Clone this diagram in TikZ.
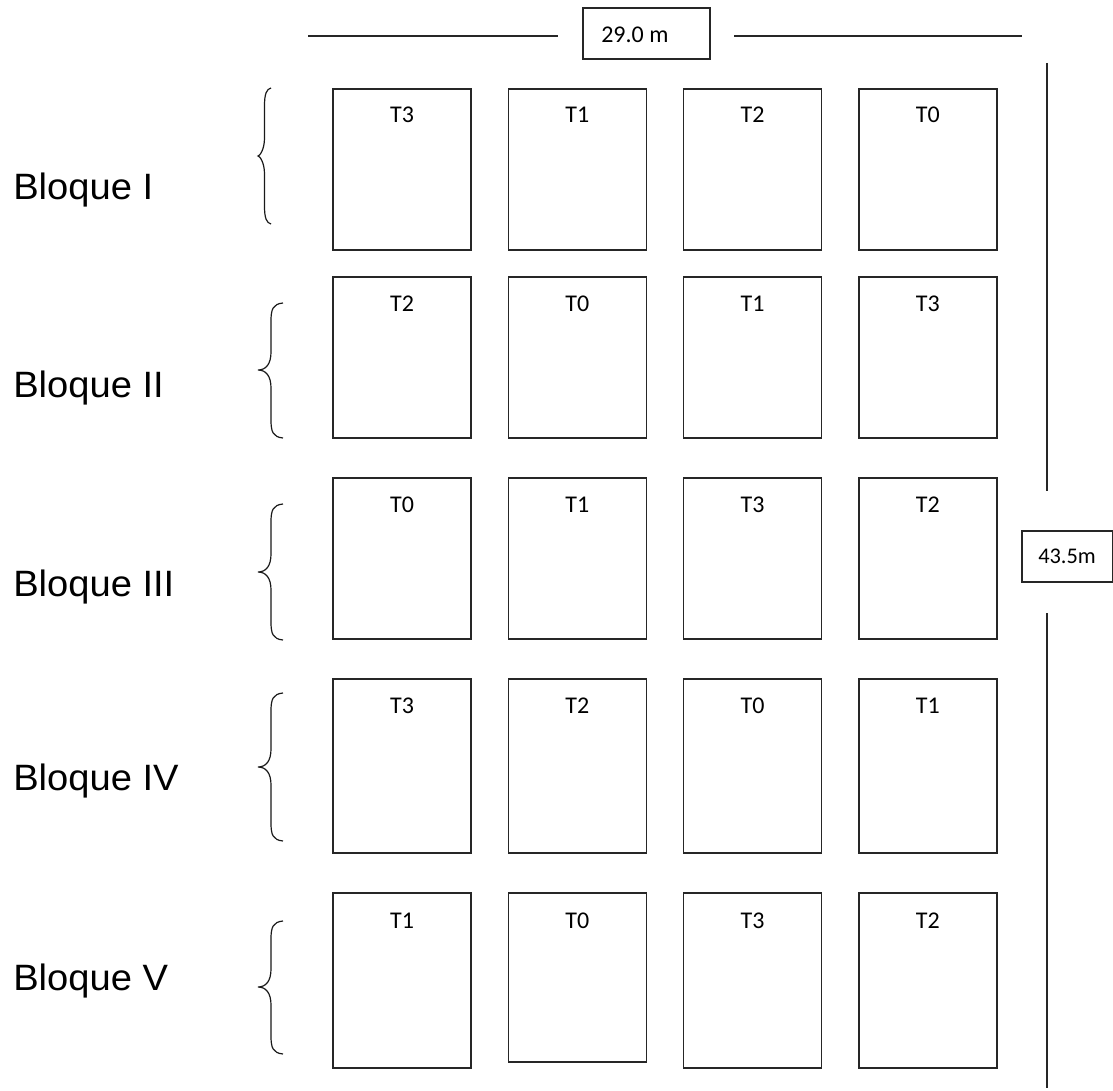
\documentclass[tikz,border=0pt]{standalone}
\usepackage{fontspec}
\setmainfont{Carlito}
\newfontfamily\arialf{Liberation Sans}
\usetikzlibrary{calc}
\newcommand\bracepath[5]{% top, mid, bottom, arm x, column x
  \draw[brc] (#4,#1) .. controls (#5+2,#1+1) and (#5,#1+6) .. (#5,#1+18)
    -- (#5,#2-18) .. controls (#5,#2-6) and (#5-5,#2) .. (258,#2)
    .. controls (#5-5,#2) and (#5,#2+6) .. (#5,#2+18)
    -- (#5,#3-18) .. controls (#5,#3-6) and (#5+2,#3-1) .. (#4,#3);}
\begin{document}
\begin{tikzpicture}[x=0.75pt,y=-0.75pt,
  plot/.style={draw=black!85, line width=1.1pt, minimum width=103.5pt, inner sep=0pt, outer sep=0pt},
  tl/.style={font=\fontsize{18}{20}\selectfont, anchor=base, inner sep=0pt},
  blq/.style={font=\arialf\fontsize{27.5}{32}\selectfont, anchor=base west, inner sep=0pt},
  brc/.style={line width=0.9pt, black!90},
  dimline/.style={line width=1.1pt, black!85},
  dimbox/.style={draw=black!85, line width=1.1pt, inner sep=0pt, outer sep=0pt}]
\useasboundingbox (0,0) rectangle (1113,1091);

% plots, rows 1-4
\foreach \r/\yc/\h/\labs in {1/169.5/120.75/{T3,T1,T2,T0},
                             2/357.5/120.75/{T2,T0,T1,T3},
                             3/558.5/120.75/{T0,T1,T3,T2},
                             4/766/130.5/{T3,T2,T0,T1}}{
  \foreach \lab [count=\c] in \labs {
    \pgfmathsetmacro\xc{402+175.3*(\c-1)}
    \node[plot, minimum height=\h pt] (b\r-\c) at (\xc,\yc) {};
    \node[tl] (t\r-\c) at ($(b\r-\c.north)+(0,34)$) {\lab};
  }
}
% row 5
\node[plot, minimum height=131.25pt] (b5-1) at (402,980.5) {};
\node[plot, minimum height=126.75pt] (b5-2) at (577.3,977.5) {};
\node[plot, minimum height=131.25pt] (b5-3) at (752.6,980.5) {};
\node[plot, minimum height=131.25pt] (b5-4) at (927.9,980.5) {};
\node[tl] (t5-1) at ($(b5-1.north)+(0,35)$) {T1};
\node[tl] (t5-2) at ($(b5-2.north)+(0,35)$) {T0};
\node[tl] (t5-3) at ($(b5-3.north)+(0,35)$) {T3};
\node[tl] (t5-4) at ($(b5-4.north)+(0,35)$) {T2};

% block labels
\node[blq] (bl1) at (13,200) {\scalebox{1.04}[1]{Bloque I}};
\node[blq] (bl2) at (13,397) {\scalebox{1.04}[1]{Bloque II}};
\node[blq] (bl3) at (13,596) {\scalebox{1.04}[1]{Bloque III}};
\node[blq] (bl4) at (13,790) {\scalebox{1.04}[1]{Bloque IV}};
\node[blq] (bl5) at (13,990) {\scalebox{1.04}[1]{Bloque V}};

% braces
\bracepath{88}{156}{224}{271}{264.5}
\bracepath{303}{370}{438}{283}{271}
\bracepath{504}{572}{640}{283}{271}
\bracepath{693}{767}{841}{283}{271}
\bracepath{921}{987}{1054}{283}{271}

% width dimension
\node[dimbox, minimum width=95.25pt, minimum height=38.25pt] (wbox) at (646.5,33.5) {};
\node[tl, anchor=base west] (wtxt) at (601,43) {29.0 m};
\coordinate (wl) at (308,36);
\coordinate (wla) at (558,36);
\coordinate (wr) at (734,36);
\coordinate (wra) at (1022,36);
\draw[dimline] (wl) -- (wla);
\draw[dimline] (wr) -- (wra);

% height dimension
\node[dimbox, minimum width=68.25pt, minimum height=38.25pt] (hbox) at (1067.5,556.5) {};
\node[tl, anchor=base west, font=\fontsize{16.8}{19}\selectfont] (htxt) at (1038,563) {43.5m};
\coordinate (ht) at (1047,63);
\coordinate (hta) at (1047,491);
\coordinate (hb) at (1047,613);
\coordinate (hba) at (1047,1088);
\draw[dimline] (ht) -- (hta);
\draw[dimline] (hb) -- (hba);
\end{tikzpicture}
\end{document}
